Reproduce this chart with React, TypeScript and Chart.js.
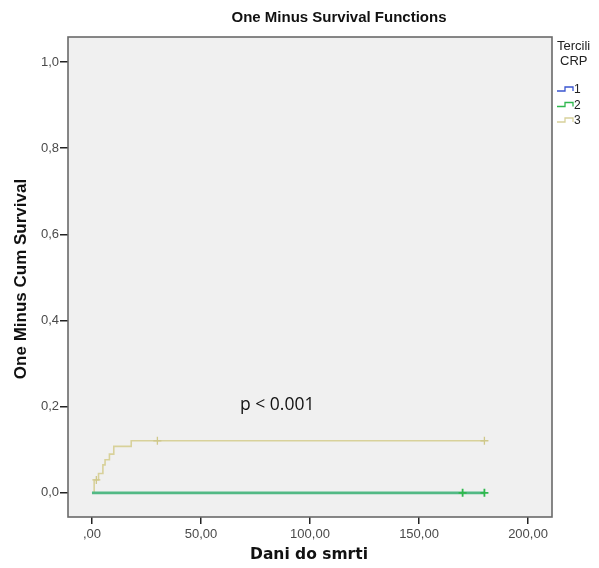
import React, { useEffect, useRef } from "react";
import { Chart, registerables } from "chart.js";

Chart.register(...registerables);

// ---- data ----
const group1Times = [0, 180];
const group1Values = [0, 0];
const group2Times = [0, 180];
const group2Values = [0, 0];
const group3Times = [0, 1, 3, 5, 6, 8, 10, 18, 180];
const group3Values = [0, 0.03, 0.045, 0.065, 0.077, 0.09, 0.108, 0.121, 0.121];

const group2CensorTimes = [170, 180];
const group2CensorValues = [0, 0];
const group3CensorTimes = [2, 30, 180];
const group3CensorValues = [0.03, 0.121, 0.121];

const xTickValues = [0, 50, 100, 150, 200];
const xTickLabels = [",00", "50,00", "100,00", "150,00", "200,00"];
const yTickValues = [0, 0.2, 0.4, 0.6, 0.8, 1.0];
const yTickLabels = ["0,0", "0,2", "0,4", "0,6", "0,8", "1,0"];

const legendLabels = ["1", "2", "3"];
const chartTitle = "One Minus Survival Functions";
const xTitle = "Dani do smrti";
const yTitle = "One Minus Cum Survival";
const legendTitle = ["Tercili", "CRP"];
const pText = "p < 0.001";

const COLORS = ["#3a55d0", "#2fb84e", "#d8d19a"];
const ZERO_LINE = "#52b985";

const toPts = (t: number[], v: number[]) => t.map((x, i) => ({ x, y: v[i] }));

const decorPlugin = {
  id: "decor",
  beforeDraw(chart: any) {
    const { ctx, chartArea } = chart;
    ctx.save();
    ctx.fillStyle = "#f0f0f0";
    ctx.fillRect(chartArea.left, chartArea.top, chartArea.right - chartArea.left, chartArea.bottom - chartArea.top);
    ctx.restore();
  },
  afterDraw(chart: any) {
    const { ctx, chartArea, scales } = chart;
    ctx.save();
    // frame
    ctx.strokeStyle = "#6a6a6a";
    ctx.lineWidth = 1.6;
    ctx.strokeRect(chartArea.left, chartArea.top, chartArea.right - chartArea.left, chartArea.bottom - chartArea.top);

    // title
    ctx.fillStyle = "#111";
    ctx.textAlign = "center";
    ctx.textBaseline = "middle";
    ctx.font = "bold 15px 'Liberation Sans', Arial, sans-serif";
    ctx.fillText(chartTitle, 339, 18);

    // x title
    ctx.font = "bold 15.5px 'DejaVu Sans', sans-serif";
    ctx.fillText(xTitle, 309, 555);

    // y title
    ctx.save();
    ctx.translate(21, 279);
    ctx.rotate(-Math.PI / 2);
    ctx.font = "bold 17px 'Liberation Sans', Arial, sans-serif";
    ctx.fillText(yTitle, 0, 0);
    ctx.restore();

    // p value
    ctx.font = "17.5px 'Open Sans', sans-serif";
    ctx.fillStyle = "#111";
    ctx.textAlign = "left";
    ctx.fillText(pText, 240, scales.y.getPixelForValue(0.205));

    // legend
    ctx.font = "13px 'Liberation Sans', Arial, sans-serif";
    ctx.fillStyle = "#222";
    ctx.textAlign = "left";
    ctx.fillText(legendTitle[0], 557, 46);
    ctx.fillText(legendTitle[1], 560, 61);
    legendLabels.forEach((lab, i) => {
      const y = 91 + i * 15.5;
      ctx.strokeStyle = COLORS[i];
      ctx.lineWidth = 1.3;
      ctx.beginPath();
      ctx.moveTo(557, y);
      ctx.lineTo(565, y);
      ctx.lineTo(565, y - 4);
      ctx.lineTo(573, y - 4);
      ctx.lineTo(573, y);
      ctx.stroke();
      ctx.fillStyle = "#222";
      ctx.font = "12px 'Liberation Sans', Arial, sans-serif";
      ctx.fillText(lab, 574, y - 1);
    });
    ctx.restore();
  },
};

export default function App() {
  const ref = useRef<HTMLCanvasElement | null>(null);
  useEffect(() => {
    if (!ref.current) return;
    const chart = new Chart(ref.current, {
      type: "scatter",
      data: {
        datasets: [
          {
            label: "c2",
            data: toPts(group2CensorTimes, group2CensorValues),
            showLine: false,
            pointStyle: "cross",
            pointRadius: 4,
            borderColor: COLORS[1],
            borderWidth: 1.8,
          },
          {
            label: "c3",
            data: toPts(group3CensorTimes, group3CensorValues),
            showLine: false,
            pointStyle: "cross",
            pointRadius: 4,
            borderColor: "#cfc88a",
            borderWidth: 1.3,
          },
          {
            label: "2",
            data: toPts(group2Times, group2Values),
            showLine: true,
            stepped: "before",
            borderColor: ZERO_LINE,
            borderWidth: 2.8,
            pointRadius: 0,
          },
          {
            label: "1",
            data: toPts(group1Times, group1Values),
            showLine: true,
            stepped: "before",
            borderColor: COLORS[0],
            borderWidth: 1.5,
            pointRadius: 0,
          },
          {
            label: "3",
            data: toPts(group3Times, group3Values),
            showLine: true,
            stepped: "before",
            borderColor: COLORS[2],
            borderWidth: 1.6,
            pointRadius: 0,
          },
        ],
      },
      options: {
        animation: false,
        responsive: false,
        maintainAspectRatio: false,
        layout: { padding: { left: 0, right: 47, top: 37, bottom: 0 } },
        plugins: { legend: { display: false }, tooltip: { enabled: false }, title: { display: false } },
        scales: {
          x: {
            type: "linear",
            min: -11,
            max: 211,
            afterFit: (s: any) => {
              s.height = 51;
            },
            afterBuildTicks: (s: any) => {
              s.ticks = xTickValues.map((v) => ({ value: v }));
            },
            grid: { drawOnChartArea: false, drawTicks: true, tickLength: 7, color: "#222", lineWidth: 1.5 },
            border: { display: false },
            ticks: {
              padding: 3,
              color: "#4a4a4a",
              font: { family: "'Liberation Sans', Arial, sans-serif", size: 13 },
              maxRotation: 0,
              callback: (v: any) => {
                const i = xTickValues.indexOf(Number(v));
                return i >= 0 ? xTickLabels[i] : "";
              },
            },
          },
          y: {
            type: "linear",
            min: -0.056,
            max: 1.058,
            afterFit: (s: any) => {
              s.width = 68;
            },
            afterBuildTicks: (s: any) => {
              s.ticks = yTickValues.map((v) => ({ value: v }));
            },
            grid: { drawOnChartArea: false, drawTicks: true, tickLength: 8, color: "#222", lineWidth: 1.5 },
            border: { display: false },
            ticks: {
              padding: 1,
              color: "#4a4a4a",
              font: { family: "'Liberation Sans', Arial, sans-serif", size: 13 },
              callback: (v: any) => {
                const i = yTickValues.findIndex((t) => Math.abs(t - Number(v)) < 1e-6);
                return i >= 0 ? yTickLabels[i] : "";
              },
            },
          },
        },
      },
      plugins: [decorPlugin],
    } as any);
    return () => chart.destroy();
  }, []);
  return (
    <div style={{ position: "fixed", left: 0, top: 0, width: 599, height: 568, background: "#fff" }}>
      <canvas ref={ref} width={599} height={568} style={{ width: 599, height: 568, display: "block" }} />
    </div>
  );
}
